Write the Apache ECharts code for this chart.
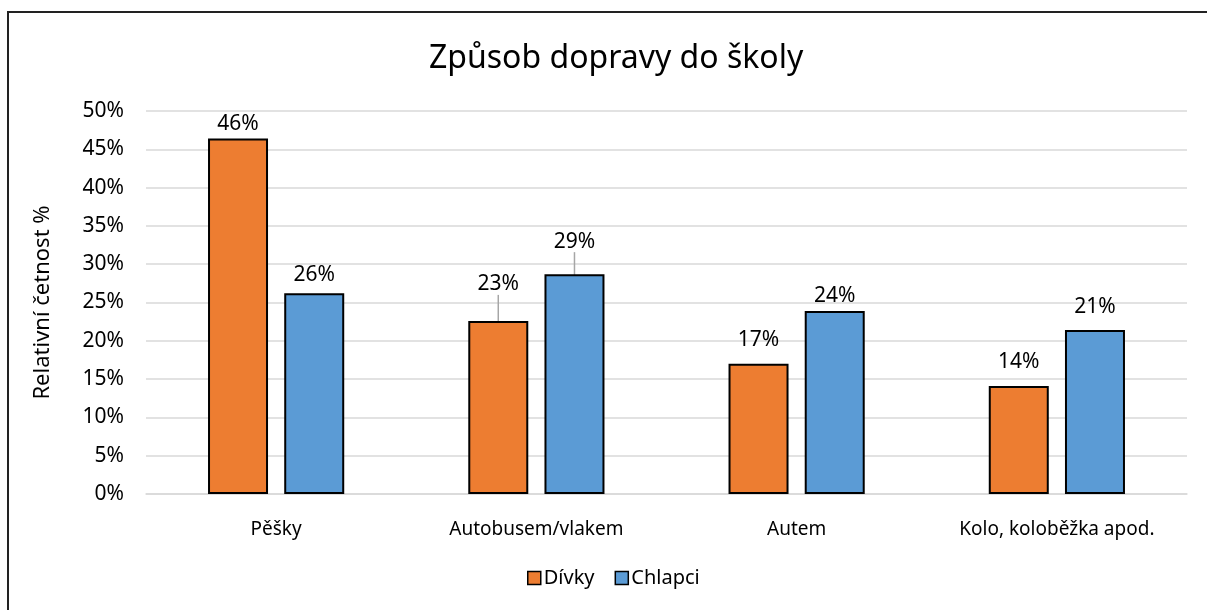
<!DOCTYPE html>
<html>
<head>
<meta charset="utf-8">
<script src="https://cdn.jsdelivr.net/npm/echarts@6/dist/echarts.min.js"></script>
<style>
  html, body { margin: 0; padding: 0; background: #fff; }
  #chart { width: 1207px; height: 610px; }
</style>
</head>
<body>
<div id="chart"></div>
<script>
// data (percent)
const categories = ['Pěšky', 'Autobusem/vlakem', 'Autem', 'Kolo, koloběžka apod.'];
const divky = [46.4, 22.6, 17.0, 14.1];
const chlapci = [26.2, 28.7, 23.9, 21.4];
const yTicks = [0, 5, 10, 15, 20, 25, 30, 35, 40, 45, 50];

const FONT = '"Noto Sans", sans-serif';
const COLORS = { divky: '#ED7D31', chlapci: '#5B9BD5', grid: '#D9D9D9', text: '#000' };

// extra upward shift of some labels, like the hand-moved ones in the original
const labelShift = [
  [0, -22, -9, -9],
  [-4, -18, 0, -9],
];
// which labels get a leader line
const withLine = [
  [false, true, false, false],
  [false, true, false, false],
];

const chart = echarts.init(document.getElementById('chart'), null, { renderer: 'canvas' });

const barSeries = (name, values, color, idx) => ({
  name,
  type: 'bar',
  barWidth: 60,
  barGap: '27%',
  data: values.map((v, i) => ({
    value: v,
    labelLine: { show: withLine[idx][i] },
  })),
  itemStyle: { color, borderColor: '#000', borderWidth: 2 },
  label: {
    show: true,
    position: 'top',
    distance: 4,
    color: COLORS.text,
    fontFamily: FONT,
    fontSize: 21,
    formatter: (p) => Math.round(p.value) + '%',
  },
  labelLayout: (p) => ({ dy: labelShift[idx][p.dataIndex] }),
  labelLine: { lineStyle: { color: '#A6A6A6', width: 1.5 } },
});

chart.setOption({
  animation: false,
  title: {
    text: 'Způsob dopravy do školy',
    left: 424,
    top: 38,
    textStyle: { fontFamily: FONT, fontSize: 32, fontWeight: 'normal', color: COLORS.text },
  },
  legend: {
    bottom: 17,
    left: 522,
    itemWidth: 13,
    itemHeight: 13,
    itemGap: 20,
    textStyle: { fontFamily: FONT, fontSize: 20, color: COLORS.text, padding: [0, 0, 0, -2] },
    data: [
      { name: 'Dívky', icon: 'rect', itemStyle: { borderColor: '#000', borderWidth: 1.5 } },
      { name: 'Chlapci', icon: 'rect', itemStyle: { borderColor: '#000', borderWidth: 1.5 } },
    ],
  },
  grid: { left: 146, right: 20, top: 111, bottom: 116, containLabel: false },
  xAxis: {
    type: 'category',
    data: categories,
    axisLine: { lineStyle: { color: COLORS.grid, width: 1.5 } },
    axisTick: { show: false },
    axisLabel: { color: COLORS.text, fontFamily: FONT, fontSize: 19, margin: 26 },
  },
  yAxis: {
    type: 'value',
    min: yTicks[0],
    max: yTicks[yTicks.length - 1],
    interval: yTicks[1] - yTicks[0],
    name: 'Relativní četnost %',
    nameLocation: 'middle',
    nameGap: 92,
    nameTextStyle: { color: COLORS.text, fontFamily: FONT, fontSize: 22 },
    axisLine: { show: false },
    axisTick: { show: false },
    axisLabel: { color: COLORS.text, fontFamily: FONT, fontSize: 21, margin: 22, formatter: '{value}%' },
    splitLine: { lineStyle: { color: COLORS.grid, width: 1.5 } },
  },
  graphic: [{
    type: 'rect',
    shape: { x: 8, y: 12, width: 1400, height: 800 },
    style: { fill: null, stroke: '#222', lineWidth: 2 },
    silent: true,
  }],
  series: [
    barSeries('Dívky', divky, COLORS.divky, 0),
    barSeries('Chlapci', chlapci, COLORS.chlapci, 1),
  ],
});
</script>
</body>
</html>
